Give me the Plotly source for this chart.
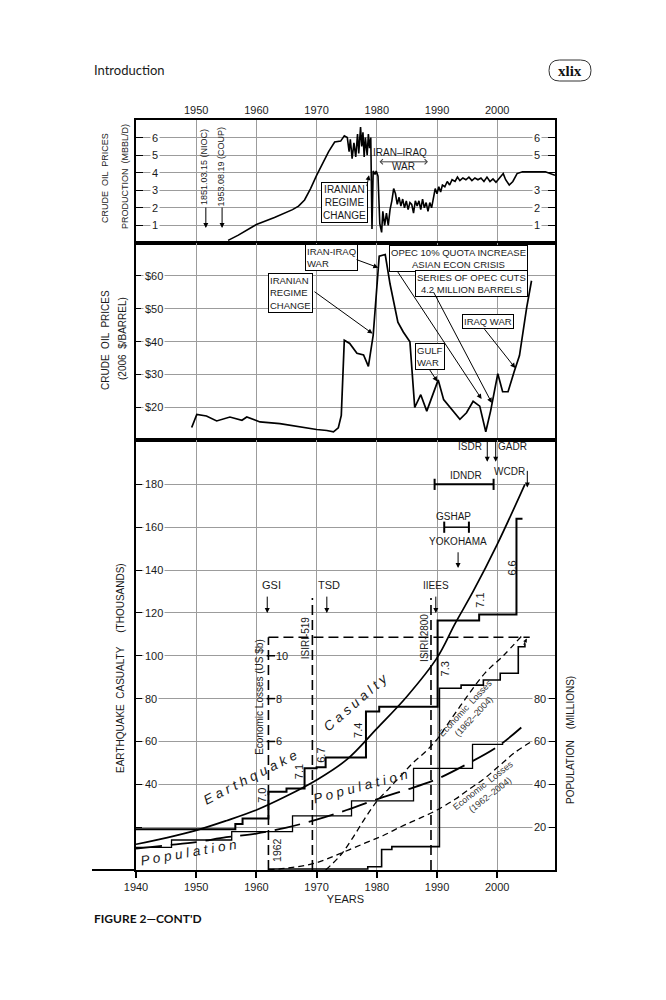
import plotly.graph_objects as go

W, H = 666, 1000
FONT = "Liberation Sans, Arial, sans-serif"
GRID = "#9c9c9c"

# ---------------------------------------------------------------- data
years_top = [1950, 1960, 1970, 1980, 1990, 2000]
years_bottom = [1940, 1950, 1960, 1970, 1980, 1990, 2000]

# crude oil production (MBBL/D)
prod_years = [1955.3, 1957, 1960, 1963, 1966, 1967, 1968, 1969, 1970, 1971, 1972, 1973, 1974,
              1974.6, 1975.1, 1975.4, 1975.6, 1975.9, 1976.2, 1976.5, 1976.8, 1977.0, 1977.3,
              1977.5, 1977.7, 1977.9, 1978.1, 1978.4, 1978.6, 1978.8, 1979.0, 1979.2, 1979.4,
              1979.7, 1979.9, 1980.2, 1980.5, 1980.8, 1981.0, 1981.3, 1981.6, 1981.9, 1982.2,
              1982.5, 1982.8, 1983.1, 1983.4, 1983.7, 1984.0, 1984.3, 1984.6, 1984.9, 1985.2,
              1985.5, 1985.8, 1986.1, 1986.4, 1986.7, 1987.0, 1987.3, 1987.6, 1987.9, 1988.2,
              1988.5, 1988.8, 1989.1, 1989.4, 1989.7, 1990.0, 1990.3, 1990.6, 1990.9, 1991.3,
              1991.7, 1992.1, 1992.5, 1993.0, 1993.4, 1993.8, 1994.3, 1994.8, 1995.3, 1995.8,
              1996.3, 1996.8, 1997.3, 1997.8, 1998.3, 1998.8, 1999.3, 1999.8, 2000.4, 2001.0,
              2001.4, 2002.0, 2002.6, 2003.3, 2004.2, 2008.0, 2009.6]
prod_mbbl = [0.15, 0.45, 1.05, 1.45, 1.9, 2.1, 2.45, 3.1, 3.85, 4.5, 5.2, 5.75, 5.8,
             6.1, 6.0, 5.2, 5.9, 4.8, 5.7, 4.9, 6.2, 5.1, 6.6,
             5.5, 6.3, 4.9, 6.0, 5.0, 6.2, 5.4, 6.0, 0.8, 4.1,
             3.9, 4.1, 3.8, 1.1, 0.6, 1.8, 1.0, 1.7, 1.0, 1.9,
             2.4, 3.1, 2.8, 2.2, 2.6, 2.1, 2.5, 2.0, 2.4, 1.9,
             2.3, 2.2, 1.7, 2.4, 2.1, 2.4, 1.9, 2.5, 2.0, 2.3,
             1.8, 2.3, 2.0, 2.6, 3.1, 2.8, 3.2, 2.9, 3.3, 3.2,
             3.5, 3.3, 3.6, 3.5, 3.75, 3.55, 3.7, 3.6, 3.75, 3.55,
             3.7, 3.6, 3.7, 3.5, 3.75, 3.5, 3.65, 3.45, 3.7, 3.95,
             3.6, 3.3, 3.5, 3.95, 4.05, 4.05, 3.85]
prod_ticks_left = [1, 2, 3, 4, 5, 6]
prod_ticks_right = [1, 2, 3, 5, 6]

# crude oil prices (2006 $/barrel)
price_years = [1949.25, 1950.1, 1951.7, 1953.4, 1955.6, 1957.6, 1958.4, 1960.6, 1963.9, 1967.2,
               1970.0, 1971.7, 1972.8, 1973.6, 1974.1, 1974.6, 1975.5, 1976.7, 1977.8, 1978.6,
               1979.4, 1980.4, 1981.4, 1982.2, 1983.5, 1984.4, 1985.5, 1986.3, 1987.3, 1988.3,
               1990.2, 1991.1, 1993.8, 1994.9, 1996.0, 1997.1, 1998.1, 1998.9, 2000.1, 2000.9,
               2001.8, 2002.8, 2003.7, 2004.9, 2005.7]
price_usd = [13.8, 17.8, 17.3, 15.8, 17.0, 16.0, 17.0, 15.5, 15.0, 14.0,
             13.2, 12.9, 12.5, 13.7, 17.5, 40.4, 39.4, 36.4, 35.9, 32.4,
             41.9, 66.0, 66.5, 57.5, 45.9, 42.9, 39.9, 19.9, 23.8, 18.8,
             28.3, 22.3, 16.3, 18.3, 21.8, 20.3, 12.5, 18.8, 30.2, 24.7,
             24.7, 30.7, 35.7, 50.4, 58.5]
price_ticks = [20, 30, 40, 50, 60]

# earthquake casualty (thousands)
cas_fit_years = [1940, 1945, 1950, 1955, 1960, 1965, 1970, 1975, 1980, 1985, 1990, 1993, 1996,
                 2000, 2004.6]
cas_fit = [12, 15, 18.5, 23, 28, 34.5, 42, 51.5, 66, 81, 99, 115, 130, 152, 180]
cas_step_years = [1940, 1956.5, 1957.7, 1962, 1965, 1968, 1970, 1971.5, 1978.2, 1980.4, 1990.1,
                  1997, 2003.2, 2004.2]
cas_step = [19, 21.5, 24, 36.5, 38, 47.5, 48, 52.5, 74, 76.2, 116.5, 119.3, 164, 164]
cas_grid = [20, 40, 60, 80, 100, 120, 140, 160, 180]
cas_ticks = [40, 60, 80, 100, 120, 140, 160, 180]

# population (millions)
pop_fit_years = [1940, 1945, 1950, 1955, 1960, 1965, 1970, 1975, 1980, 1985, 1990, 1995, 2000, 2004]
pop_fit = [10, 11.5, 13, 15.3, 17, 19.8, 23.5, 28, 33, 37.5, 42.5, 49.5, 57.5, 66.5]
pop_step_years = [1940, 1945.9, 1955.9, 1966, 1975.8, 1986.1, 1995.9, 2001]
pop_step = [10.6, 14, 17.9, 25.3, 32.3, 47.4, 58.6, 58.6]
pop_ticks = [20, 40, 60, 80]

# economic losses (US $b)
loss_step_years = [1962, 1978.5, 1980.8, 1982.5, 1990.4, 1994, 1997.7, 2000.5, 2003.5, 2004.6]
loss_step = [0.05, 0.15, 0.96, 1.09, 8.48, 8.63, 8.87, 9.18, 10.42, 10.58]
loss_fit1_years = [1971.5, 1974, 1976, 1978, 1980, 1982, 1984, 1986, 1988, 1990, 1992, 1995, 1998,
                   2001, 2004]
loss_fit1 = [0, 0.7, 1.5, 2.4, 3.2, 3.8, 4.4, 5.0, 5.5, 6.1, 6.9, 8.1, 9.2, 10.0, 10.9]
loss_fit2_years = [1962, 1966, 1970, 1974, 1978, 1981, 1984, 1987, 1990, 1993, 1995, 1998, 2000.5,
                   2003, 2006.3]
loss_fit2 = [0, 0.12, 0.34, 0.78, 1.25, 1.6, 2.02, 2.4, 2.8, 3.3, 3.7, 4.3, 4.9, 5.5, 6.1]
loss_ticks = [6, 8, 10]
loss_start, loss_cap, loss_cap_end = 1962, 10.86, 2005.4

isiri_years = [1969.3, 1989.0]
isiri_labels = ["ISIRI-519", "ISIRI-2800"]
isiri_top = 127

mag_labels = ["7.0", "7.1", "6.7", "7.4", "7.3", "7.1", "6.6"]
mag_years = [1960.9, 1967.2, 1970.7, 1976.9, 1991.3, 1997.1, 2002.4]
mag_levels = [35, 46, 53.7, 65, 94, 126, 141]

X_RANGE = [1940, 2009.6]
XD = [136 / W, 555 / W]


def py(y):
    return 1 - y / H


fig = go.Figure()
blk = "black"

fig.add_trace(go.Scatter(x=prod_years, y=prod_mbbl, mode="lines", xaxis="x", yaxis="y",
                         line=dict(color=blk, width=1.6)))
fig.add_trace(go.Scatter(x=price_years, y=price_usd, mode="lines", xaxis="x2", yaxis="y2",
                         line=dict(color=blk, width=1.7)))

# bottom panel
fig.add_trace(go.Scatter(x=loss_fit1_years, y=loss_fit1, mode="lines", xaxis="x3", yaxis="y4",
                         line=dict(color=blk, width=1.3, dash="6px,4px", shape="spline")))
fig.add_trace(go.Scatter(x=loss_fit2_years, y=loss_fit2, mode="lines", xaxis="x3", yaxis="y4",
                         line=dict(color=blk, width=1.3, dash="6px,4px", shape="spline")))
fig.add_trace(go.Scatter(x=loss_step_years, y=loss_step, mode="lines", xaxis="x3", yaxis="y4",
                         line=dict(color=blk, width=1.6, shape="hv")))
fig.add_trace(go.Scatter(x=pop_step_years, y=pop_step, mode="lines", xaxis="x3", yaxis="y5",
                         line=dict(color=blk, width=1.3, shape="hv")))
fig.add_trace(go.Scatter(x=pop_fit_years, y=pop_fit, mode="lines", xaxis="x3", yaxis="y5",
                         line=dict(color=blk, width=1.8, dash="26px,9px", shape="spline")))
fig.add_trace(go.Scatter(x=cas_step_years, y=cas_step, mode="lines", xaxis="x3", yaxis="y3",
                         line=dict(color=blk, width=2, shape="hv")))
fig.add_trace(go.Scatter(x=cas_fit_years, y=cas_fit, mode="lines", xaxis="x3", yaxis="y3",
                         line=dict(color=blk, width=1.7, shape="spline")))

# inner losses axis ticks
fig.add_trace(go.Scatter(x=[loss_start + 0.4] * len(loss_ticks), y=loss_ticks, mode="markers",
                         xaxis="x3", yaxis="y4",
                         marker=dict(symbol="line-ew", size=6, line=dict(color=blk, width=1.5))))

# IDNDR / GSHAP interval bars
for x0, x1, lev in [(1989.6, 1999.4, 180), (1991.2, 1995.3, 160)]:
    fig.add_trace(go.Scatter(x=[x0, x1], y=[lev, lev], mode="lines+markers", xaxis="x3", yaxis="y3",
                             line=dict(color=blk, width=2 if lev == 180 else 1.4),
                             marker=dict(symbol="line-ns", size=8, line=dict(color=blk, width=2))))

# dashed reference lines
shapes = [
    dict(type="line", xref="x3", yref="y4", x0=loss_start, x1=loss_start, y0=0, y1=loss_cap,
         line=dict(color=blk, width=1.6, dash="10px,5px")),
    dict(type="line", xref="x3", yref="y4", x0=loss_start, x1=loss_cap_end, y0=loss_cap, y1=loss_cap,
         line=dict(color=blk, width=1.6, dash="10px,5px")),
]
for yr in isiri_years:
    shapes.append(dict(type="line", xref="x3", yref="y3", x0=yr, x1=yr, y0=0, y1=isiri_top,
                       line=dict(color=blk, width=1.6, dash="10px,5px")))
# bottom rule running past the frame
shapes.append(dict(type="line", xref="paper", yref="paper", x0=92 / W, x1=136 / W,
                   y0=py(870), y1=py(870), line=dict(color=blk, width=2)))

# page number pill
l, r, t, b, rad = 549, 591, 60, 81, 10.5


def P(x, y):
    return f"{x / W:.5f},{py(y):.5f}"


pill = (f"M{P(l + rad, t)} L{P(r - rad, t)} Q{P(r, t)} {P(r, t + rad)} "
        f"Q{P(r, b)} {P(r - rad, b)} L{P(l + rad, b)} Q{P(l, b)} {P(l, b - rad)} "
        f"Q{P(l, t)} {P(l + rad, t)} Z")
shapes.append(dict(type="path", xref="paper", yref="paper", path=pill,
                   line=dict(color="#333", width=1)))

ann = []


def text(x, y, s, xref, yref, size=10, angle=0, **kw):
    d = dict(x=x, y=y, text=s, xref=xref, yref=yref, showarrow=False, textangle=angle,
             xanchor="center", yanchor="middle",
             font=dict(family=FONT, size=size, color="#1a1a1a"))
    d["font"].update(kw.pop("font", {}))
    d.update(kw)
    ann.append(d)


def arrow(x, y, ax, ay, xref, yref, head=2, **kw):
    d = dict(x=x, y=y, ax=ax, ay=ay, xref=xref, yref=yref, axref=xref, ayref=yref, text="",
             showarrow=True, arrowhead=head, arrowsize=1, arrowwidth=1, arrowcolor=blk, standoff=0)
    d.update(kw)
    ann.append(d)


# tick labels drawn over the grid
for v in prod_ticks_left:
    text(0.045, v, str(v), "x domain", "y", size=11, bgcolor="white")
for v in prod_ticks_right:
    text(0.957, v, str(v), "x domain", "y", size=11, bgcolor="white")
for v in price_ticks:
    text(0.016, v, f"${v}", "x2 domain", "y2", size=11, bgcolor="white", xanchor="left")
for v in cas_ticks:
    text(0.016, v, str(v), "x3 domain", "y3", size=11, bgcolor="white", xanchor="left")
for v in pop_ticks:
    text(0.964, v, str(v), "x3 domain", "y5", size=11, bgcolor="white")
for v in loss_ticks:
    text(loss_start + 0.9, v, str(v), "x3", "y4", size=11, xanchor="left")

# axis titles
text(105 / W, py(178), "CRUDE  OIL  PRICES", "paper", "paper", size=9, angle=-90)
text(125 / W, py(176), "PRODUCTION  (MBBL/D)", "paper", "paper", size=9, angle=-90)
text(105 / W, py(340), "CRUDE  OIL  PRICES", "paper", "paper", size=10, angle=-90)
text(123 / W, py(339), "(2006  $/BARREL)", "paper", "paper", size=10, angle=-90)
text(120 / W, py(668), "EARTHQUAKE  CASUALTY\u00a0\u00a0\u00a0\u00a0\u00a0(THOUSANDS)", "paper", "paper",
     size=10, angle=-90)
text(570 / W, py(740), "POPULATION\u00a0\u00a0\u00a0\u00a0(MILLIONS)", "paper", "paper", size=10, angle=-90)

# page furniture
text(92 / W, py(70), "Introduction", "paper", "paper", size=13, xanchor="left",
     font=dict(family="Lato, Open Sans, sans-serif"))
text(570 / W, py(70.5), "<b>xlix</b>", "paper", "paper", size=15,
     font=dict(family="Liberation Serif, serif", color="#111"))
text(92 / W, py(918), "<b>FIGURE 2—CONT'D</b>", "paper", "paper", size=12, xanchor="left",
     font=dict(family="Lato, Open Sans, sans-serif", color="#111"))

# top panel notes
text(1951.2, 4.35, "1851.03.15 (NIOC)", "x", "y", size=9, angle=-90)
text(1954.1, 4.35, "1953.08.19 (COUP)", "x", "y", size=9, angle=-90)
arrow(1951.6, 0.85, 1951.6, 2.1, "x", "y")
arrow(1954.3, 0.85, 1954.3, 2.1, "x", "y")
text(1983.9, 5.13, "IRAN–IRAQ", "x", "y", size=10)
text(1984.4, 4.33, "WAR", "x", "y", size=10)
arrow(1988.5, 4.62, 1980.2, 4.62, "x", "y", head=4, arrowside="end+start", startarrowhead=4,
      arrowcolor="#444")
text(1974.6, 2.31, "IRANIAN<br>REGIME<br>CHANGE", "x", "y", size=10, bgcolor="white",
     bordercolor=blk, borderwidth=1, borderpad=1)
arrow(1978.7, 3.86, 1978.3, 3.15, "x", "y")

# middle panel notes
box = dict(size=9.5, bgcolor="white", bordercolor=blk, borderwidth=1, borderpad=1)
text(1972.4, 65.6, "IRAN-IRAQ<br>WAR", "x2", "y2", align="left", **box)
arrow(1980.25, 62.5, 1976.4, 65.1, "x2", "y2")
text(1965.7, 54.8, "IRANIAN<br>REGIME<br>CHANGE", "x2", "y2", align="left", **box)
arrow(1979.3, 42.4, 1969.4, 55.5, "x2", "y2")
text(1993.5, 65.2, "OPEC 10% QUOTA INCREASE<br>ASIAN ECON CRISIS", "x2", "y2", **box)
arrow(1997.4, 22.5, 1983.3, 61.7, "x2", "y2")
text(1995.7, 57.8, "SERIES OF OPEC CUTS<br>4.2 MILLION BARRELS", "x2", "y2", **box)
arrow(1999.1, 21.3, 1989.3, 55.5, "x2", "y2")
text(1998.5, 46.1, "IRAQ WAR", "x2", "y2", **box)
arrow(2003.0, 31.9, 1997.7, 44.2, "x2", "y2")
text(1988.8, 35.5, "GULF<br>WAR", "x2", "y2", align="left", **box)
arrow(1990.05, 27.8, 1988.6, 31.9, "x2", "y2")

# bottom panel notes
for lab, lx, ax_ in [("GSI", 1962.5, 1961.8), ("TSD", 1972.1, 1971.7), ("IIEES", 1989.9, 1989.8)]:
    text(lx, 133, lab, "x3", "y3", size=11 if lab != "IIEES" else 10)
    arrow(ax_, 120, ax_, 128.3, "x3", "y3")
text(1993.5, 153.5, "YOKOHAMA", "x3", "y3", size=10)
arrow(1993.5, 141, 1993.5, 149, "x3", "y3")
text(1992.8, 165.2, "GSHAP", "x3", "y3", size=10)
text(1994.8, 184.2, "IDNDR", "x3", "y3", size=10)
text(1995.5, 197.5, "ISDR", "x3", "y3", size=10)
arrow(1998.35, 190.5, 1998.35, 200.5, "x3", "y3")
text(2002.6, 197.5, "GADR", "x3", "y3", size=10)
arrow(1999.75, 190.5, 1999.75, 200.5, "x3", "y3")
text(2002.1, 185.9, "WCDR", "x3", "y3", size=10)
arrow(2005.0, 178.5, 2005.0, 187, "x3", "y3")
# small head where the loss steps meet the cap line
arrow(2004.9, loss_cap - 0.05, 2004.3, 10.45, "x3", "y4", arrowsize=0.8)

for lab, yr in zip(isiri_labels, isiri_years):
    text(yr - 1.1, 108.5, lab, "x3", "y3", size=10, angle=-90)
text(1960.5, 8.1, "Economic Losses (US $b)", "x3", "y4", size=10, angle=-90)
text(1963.4, 0.93, "1962", "x3", "y4", size=10.5, angle=-90)

for lab, yr, lev in zip(mag_labels, mag_years, mag_levels):
    text(yr, lev, lab, "x3", "y3", size=11, angle=-90)

ital = dict(style="italic")
text(1959.0, 43, "E a r t h q u a k e", "x3", "y3", size=13.5, angle=-27, font=ital)
text(1976.5, 78, "C a s u a l t y", "x3", "y3", size=13.5, angle=-41, font=ital)
text(1977.3, 39, "P o p u l a t i o n", "x3", "y3", size=13.5, angle=-15, font=ital)
text(1948.8, 8.2, "P o p u l a t i o n", "x3", "y3", size=13.5, angle=-10, font=ital)
text(1995.5, 73.7, "Economic  Losses<br>(1962–2004)", "x3", "y3", size=9, angle=-47,
     font=dict(color="#333"))
text(1998.3, 37.3, "Economic  Losses<br>(1962–2004)", "x3", "y3", size=9, angle=-38,
     font=dict(color="#333"))

frame = dict(showline=True, linewidth=2, linecolor=blk, mirror=True, zeroline=False,
             showgrid=True, gridcolor=GRID, gridwidth=0.8, automargin=False)
tickf = dict(family=FONT, size=11, color="#1a1a1a")

fig.update_layout(
    template="none",
    width=W, height=H, autosize=False, showlegend=False,
    margin=dict(l=0, r=0, t=0, b=0, pad=0, autoexpand=False),
    paper_bgcolor="white", plot_bgcolor="white",
    font=dict(family=FONT, color="#1a1a1a"),
    xaxis=dict(domain=XD, range=X_RANGE, anchor="y", side="top", tickvals=years_top, ticks="",
               tickfont=tickf, **frame),
    yaxis=dict(domain=[py(243), py(120)], range=[0, 7], anchor="x", tickvals=prod_ticks_left,
               showticklabels=False, ticks="inside", ticklen=7, tickcolor=blk,
               **{**frame, "mirror": "ticks"}),
    xaxis2=dict(domain=XD, range=X_RANGE, anchor="y2", tickvals=years_top, showticklabels=False,
                ticks="", **frame),
    yaxis2=dict(domain=[py(440), py(243)], range=[10, 70], anchor="x2", tickvals=price_ticks,
                showticklabels=False, ticks="inside", ticklen=5, tickcolor=blk, **frame),
    xaxis3=dict(domain=XD, range=X_RANGE, anchor="y3", tickvals=years_bottom, ticks="outside",
                ticklen=6, tickcolor=blk, tickwidth=1.5, tickfont=tickf,
                title=dict(text="YEARS", font=dict(family=FONT, size=11), standoff=2), **frame),
    yaxis3=dict(domain=[py(870), py(440)], range=[0, 200.7], anchor="x3", tickvals=cas_grid,
                showticklabels=False, ticks="inside", ticklen=6, tickcolor=blk, **frame),
    yaxis4=dict(overlaying="y3", anchor="x3", range=[0, 20.07], visible=False, automargin=False),
    yaxis5=dict(overlaying="y3", anchor="x3", side="right", range=[0, 200.7], tickvals=pop_ticks,
                showticklabels=False, ticks="inside", ticklen=6, tickcolor=blk, showgrid=False,
                showline=False, zeroline=False, automargin=False),
    shapes=shapes,
    annotations=ann,
)

fig.write_html("out.html", config={"displayModeBar": False, "responsive": False},
               post_script="document.body.style.margin='0';")
